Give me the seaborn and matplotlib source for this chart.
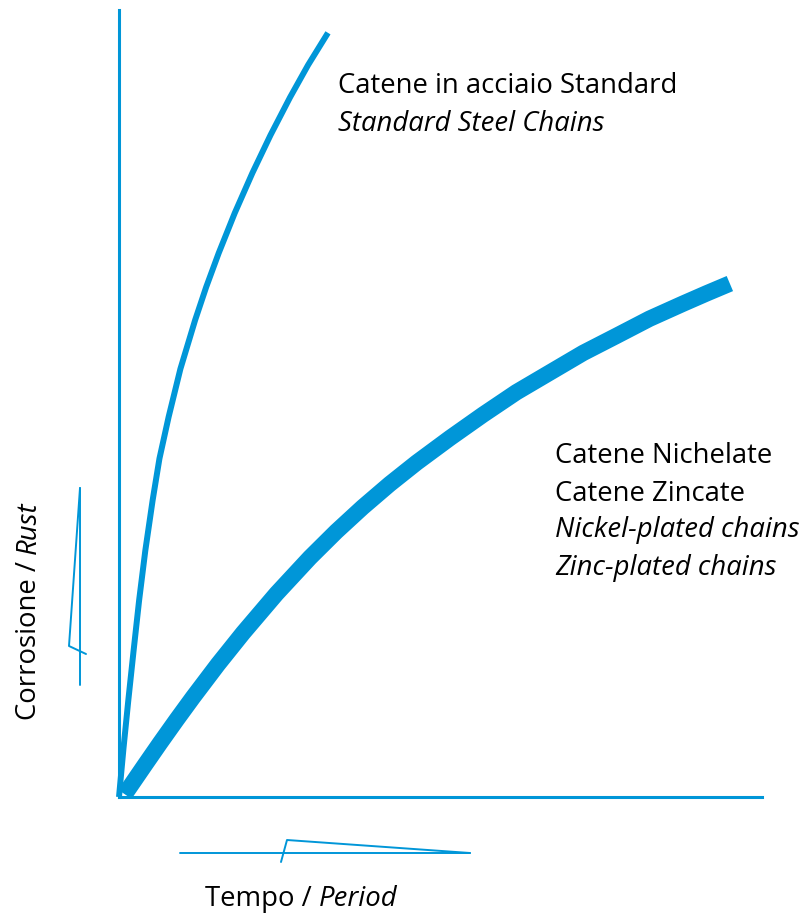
from matplotlib import pyplot as plt
import pandas as pd
import seaborn as sns

sns.set_style("white")
plt.rcParams["font.family"] = ["Open Sans", "DejaVu Sans"]
plt.rcParams["text.color"] = "black"

BLUE = "#0096D8"

# Curves (time 0-100, corrosion 0-100)
steel_time = [0, 0.70, 1.45, 2.27, 3.13, 4.09, 5.23, 6.29, 7.72, 9.55, 11.84,
              13.56, 15.5, 18.0, 20.75, 23.56, 26.6, 29.4, 32.5]
steel_rust = [0, 6.2, 12.3, 18.6, 25.0, 31.3, 37.7, 43.0, 48.3, 54.4, 60.6,
              64.8, 69.1, 74.2, 79.3, 84.1, 88.9, 93.0, 97.1]

plated_time = [0.9, 1.7, 4.05, 6.4, 9.0, 11.5, 15.4, 19.3, 24.5, 29.7, 33.8, 37.9,
               42.1, 46.3, 51.5, 56.6, 61.8, 67.0, 72.2, 77.4, 82.5, 87.7, 91.4, 95.0]
plated_rust = [0.35, 1.3, 4.1, 6.87, 9.86, 12.66, 16.87, 20.85, 25.84, 30.42, 33.74, 36.82,
               39.76, 42.49, 45.63, 48.57, 51.43, 53.93, 56.43, 58.61, 60.77, 62.68, 64.0, 65.24]

steel = pd.DataFrame({"Tempo": steel_time, "Corrosione": steel_rust})
plated = pd.DataFrame({"Tempo": plated_time, "Corrosione": plated_rust})

W, H = 809, 915
fig = plt.figure(figsize=(W / 100, H / 100), dpi=100)
ax = fig.add_axes([119 / W, (H - 797) / H, (762 - 119) / W, (797 - 10) / H])

sns.lineplot(data=steel, x="Tempo", y="Corrosione", ax=ax, color=BLUE,
             linewidth=4.3, sort=False, solid_capstyle="butt",
             solid_joinstyle="round", clip_on=False)
sns.lineplot(data=plated, x="Tempo", y="Corrosione", ax=ax, color=BLUE,
             linewidth=11.8, sort=False, solid_capstyle="butt",
             solid_joinstyle="round", clip_on=False)

ax.set_xlim(0, 100)
ax.set_ylim(0, 100)
ax.set_xticks([])
ax.set_yticks([])
ax.set_xlabel("")
ax.set_ylabel("")
for side in ["top", "right"]:
    ax.spines[side].set_visible(False)
for side in ["left", "bottom"]:
    ax.spines[side].set_color(BLUE)
    ax.spines[side].set_linewidth(2.2)


def px(x, y):
    return x / W, 1 - y / H


fs = 19.8
fig.text(*px(338, 93), "Catene in acciaio Standard", fontsize=fs, va="baseline")
fig.text(*px(338, 131), "Standard Steel Chains", fontsize=fs, va="baseline", style="italic")

fig.text(*px(555, 463), "Catene Nichelate", fontsize=fs, va="baseline")
fig.text(*px(555, 501), "Catene Zincate", fontsize=fs, va="baseline")
fig.text(*px(555, 537), "Nickel-plated chains", fontsize=fs, va="baseline", style="italic")
fig.text(*px(555, 575), "Zinc-plated chains", fontsize=fs, va="baseline", style="italic")

# axis titles, regular + italic parts
t1 = fig.text(*px(205, 906), "Tempo / ", fontsize=fs, va="baseline")
fig.canvas.draw()
bb = t1.get_window_extent()
fig.text(bb.x1 / W, 1 - 906 / H, "Period", fontsize=fs, va="baseline", style="italic")

r1 = fig.text(*px(36, 720), "Corrosione / ", fontsize=fs, rotation=90,
              rotation_mode="anchor", ha="left", va="baseline")
fig.canvas.draw()
bb = r1.get_window_extent()
fig.text(36 / W, bb.y1 / H, "Rust", fontsize=fs, rotation=90,
         rotation_mode="anchor", ha="left", va="baseline", style="italic")

# little decorative arrow marks next to the axis titles
deco = [
    ([80, 80], [488, 685]),
    ([80, 69, 86], [488, 646, 654]),
    ([180, 470], [853, 853]),
    ([281, 287, 470], [862, 840, 853]),
]
for xs, ys in deco:
    fig.add_artist(plt.Line2D([x / W for x in xs], [1 - y / H for y in ys],
                              color=BLUE, linewidth=1.4))

plt.savefig("out.png", dpi=100)
